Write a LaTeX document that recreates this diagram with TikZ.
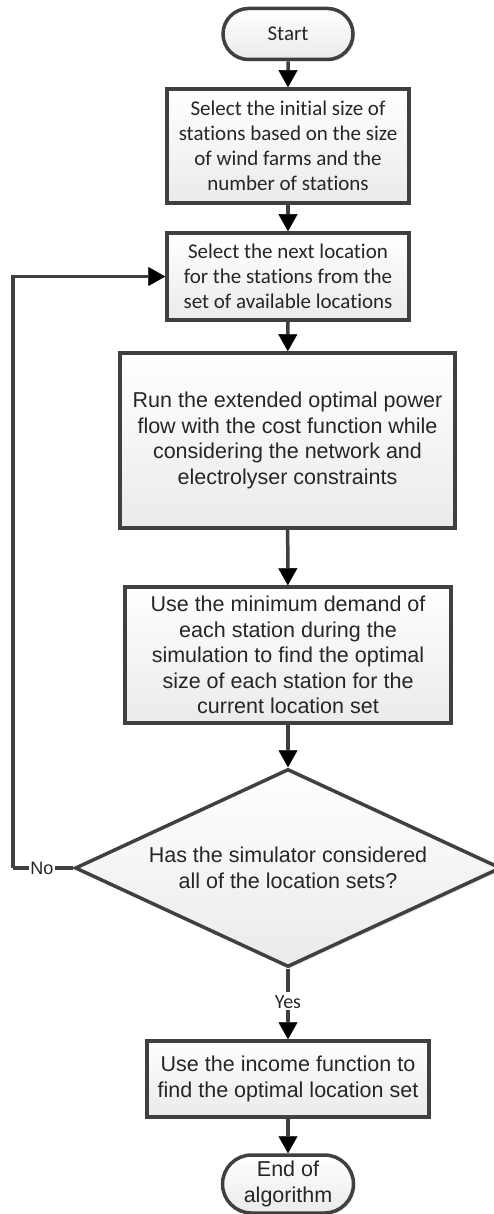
\documentclass[tikz,border=0pt]{standalone}
\usepackage{fontspec}
\setmainfont{Liberation Sans}
\newfontfamily\calib[Ligatures={CommonOff}]{Carlito}
\usetikzlibrary{shapes.geometric,shapes.misc,arrows.meta,shadows}

\definecolor{edge}{HTML}{404040}
\definecolor{ink}{HTML}{262626}

\tikzset{
  every node/.style={text=ink},
  boxbase/.style={draw=edge, line width=3.5pt, align=center, inner sep=0pt,
    top color=white, bottom color=black!8,
    drop shadow={shadow xshift=2pt, shadow yshift=-2pt, fill=black!20, opacity=0.6}},
  procbox/.style={boxbase, rectangle},
  termbox/.style={boxbase, rounded rectangle},
  decbox/.style={boxbase, diamond},
  calfont/.style={font=\calib\fontsize{21}{25}\selectfont},
  arifont/.style={font=\fontsize{21.5}{25.5}\selectfont},
  flow/.style={draw=edge, line width=3.5pt, -{Triangle[length=17pt,width=19pt,color=black,line width=0.5pt]}},
  plainline/.style={draw=edge, line width=3.5pt},
  tag/.style={fill=white, inner sep=1pt}
}

\begin{document}
\begin{tikzpicture}[x=1pt,y=-1pt]
\useasboundingbox (0,0) rectangle (494,1214);

\node[termbox, calfont, minimum width=130pt, minimum height=51pt] (start) at (288,34) {Start};

\node[procbox, calfont, minimum width=242pt, minimum height=114pt] (init) at (288,146)
  {Select the initial size of\\stations based on the size\\of wind farms and the\\number of stations};

\node[procbox, calfont, minimum width=242pt, minimum height=87pt] (next) at (288,276.5)
  {Select the next location\\for the stations from the\\set of available locations};

\node[procbox, arifont, minimum width=335pt, minimum height=175pt] (opf) at (287.5,440.5)
  {Run the extended optimal power\\flow with the cost function while\\considering the network and\\electrolyser constraints};

\node[procbox, arifont, minimum width=326pt, minimum height=136pt] (size) at (288,655)
  {Use the minimum demand of\\each station during the\\simulation to find the optimal\\size of each station for the\\current location set};

\node[decbox, arifont, minimum width=426pt, minimum height=198pt, aspect=2.15] (check) at (288,868)
  {Has the simulator considered\\all of the location sets?};

\node[procbox, arifont, minimum width=282pt, minimum height=76pt] (income) at (288,1079)
  {Use the income function to\\find the optimal location set};

\node[termbox, arifont, minimum width=131pt, minimum height=58pt] (finish) at (288,1184)
  {End of\\algorithm};

% main flow
\draw[flow] (start) -- (init);
\draw[flow] (init) -- (next);
\draw[flow] (next) -- (opf);
\draw[flow] (opf) -- (size);
\draw[flow] (size) -- (check);

% loop back when not all location sets are done
\coordinate (lb) at (13,868);
\coordinate (lt) at (13,276.5);
\draw[plainline] (check.west) -- (lb);
\node[tag, font=\fontsize{18}{20}\selectfont] (no) at (42,868) {No};
\draw[flow] (lb) -- (lt) -- (next.west);

% exit when all location sets are done
\draw[plainline] (check.south) -- (288,992);
\node[tag, font=\calib\fontsize{20}{22}\selectfont] (yes) at (288,1002) {Yes};
\draw[flow] (yes.south) -- (income.north);
\draw[flow] (income) -- (finish);
\end{tikzpicture}
\end{document}
